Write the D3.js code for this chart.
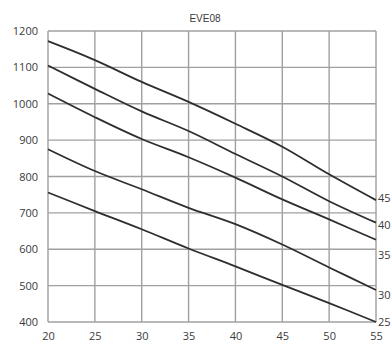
<!DOCTYPE html>
<html><head><meta charset="utf-8">
<script src="https://cdn.jsdelivr.net/npm/d3@7"></script>
<style>body{margin:0;background:#fff;}svg{display:block;}</style>
</head><body>
<svg id="chart" width="392" height="347"></svg>
<script>
const title = "EVE08";
const xValues = [20, 25, 30, 35, 40, 45, 50, 55];
const xTicks = [20, 25, 30, 35, 40, 45, 50, 55];
const yTicks = [400, 500, 600, 700, 800, 900, 1000, 1100, 1200];
const seriesNames = ["45", "40", "35", "30", "25"];
const s45 = [1172, 1120, 1060, 1005, 945, 882, 806, 735];
const s40 = [1105, 1041, 979, 925, 862, 800, 732, 673];
const s35 = [1028, 963, 903, 853, 797, 737, 682, 626];
const s30 = [875, 815, 765, 714, 669, 613, 550, 488];
const s25 = [756, 705, 655, 602, 553, 502, 452, 400];
const labelValues = [741, 667, 584, 474, 400];

const series = [s45, s40, s35, s30, s25];
const svg = d3.select("#chart");
const L = 48, R = 376, T = 31, B = 322;
const x = d3.scaleLinear().domain([20, 55]).range([L, R]);
const y = d3.scaleLinear().domain([400, 1200]).range([B, T]);
const font = "'Open Sans', 'Liberation Sans', sans-serif";
const gridColor = "#a0a0a0";
const textColor = "#3a3a3a";

// grid
svg.append("g").selectAll("line.v").data(xTicks).join("line")
  .attr("x1", d => x(d)).attr("x2", d => x(d)).attr("y1", T).attr("y2", B)
  .attr("stroke", gridColor).attr("stroke-width", 1.4);
svg.append("g").selectAll("line.h").data(yTicks).join("line")
  .attr("x1", L).attr("x2", R).attr("y1", d => y(d)).attr("y2", d => y(d))
  .attr("stroke", gridColor).attr("stroke-width", 1.4);

// axes labels
const yAxis = d3.axisLeft(y).tickValues(yTicks).tickFormat(d3.format("d")).tickSize(0).tickPadding(10);
const gy = svg.append("g").attr("transform", `translate(${L},0)`).call(yAxis);
gy.select(".domain").remove();
gy.selectAll("text").attr("font-family", font).attr("font-size", 11).attr("fill", textColor);

const xAxis = d3.axisBottom(x).tickValues(xTicks).tickFormat(d3.format("d")).tickSize(0).tickPadding(10);
const gx = svg.append("g").attr("transform", `translate(0,${B})`).call(xAxis);
gx.select(".domain").remove();
gx.selectAll("text").attr("font-family", font).attr("font-size", 11).attr("fill", textColor);

// curves
const line = d3.line().x((d, i) => x(xValues[i])).y(d => y(d)).curve(d3.curveCatmullRom.alpha(0.5));
svg.append("g").selectAll("path").data(series).join("path")
  .attr("d", d => line(d)).attr("fill", "none")
  .attr("stroke", "#2e2e2e").attr("stroke-width", 1.8);

// series labels
svg.append("g").selectAll("text").data(seriesNames).join("text")
  .attr("x", x(55) + 2).attr("y", (d, i) => y(labelValues[i]))
  .attr("dy", "0.35em")
  .attr("font-family", font).attr("font-size", 11).attr("fill", textColor)
  .text(d => d);

// title
svg.append("text").attr("x", 205).attr("y", 22).attr("text-anchor", "middle")
  .attr("font-family", "'Liberation Sans Narrow', 'Liberation Sans', sans-serif")
  .attr("font-size", 10).attr("fill", textColor).text(title);
</script>
</body></html>
